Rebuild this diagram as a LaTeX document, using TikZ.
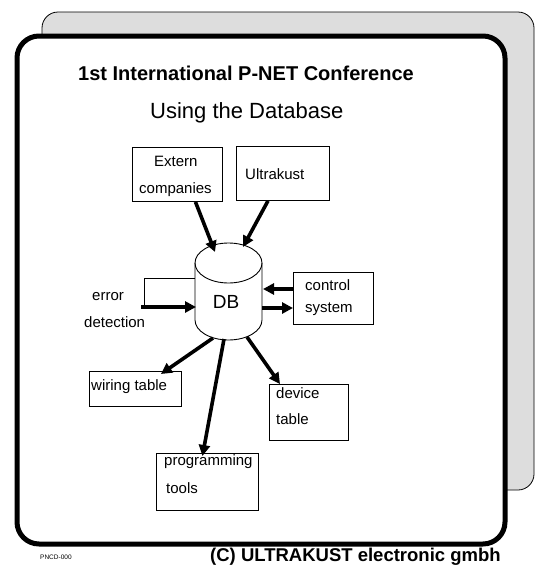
\documentclass[tikz,border=0pt]{standalone}
\usepackage{fontspec}
\setmainfont{Liberation Sans}
\usetikzlibrary{arrows.meta}
\definecolor{panelgray}{RGB}{221,221,221}
\begin{document}
\begin{tikzpicture}[x=1pt,y=-1pt,
  box/.style={draw,line width=0.9pt,rectangle,inner sep=0pt,anchor=north west},
  txt/.style={font=\fontsize{15}{17}\selectfont,inner sep=0pt,anchor=west},
  big/.style={line width=3.6pt,-{Triangle[length=11pt,width=11pt]}},
  thin/.style={line width=0.9pt}]
\useasboundingbox (0,0) rectangle (536,568);
% panels
\draw[fill=panelgray,line width=0.8pt,rounded corners=16pt] (42,12) rectangle (534,490);
\draw[fill=white,line width=5pt,rounded corners=22pt] (17,36) rectangle (505,544);
% titles
\node[inner sep=0pt,anchor=west,font=\bfseries\fontsize{20}{22}\selectfont] (title) at (78,73) {1st International P-NET Conference};
\node[inner sep=0pt,anchor=west,font=\fontsize{22}{24}\selectfont] (sub) at (150,113) {Using the Database};
% boxes
\node[box,minimum width=90pt,minimum height=54pt] (ext) at (132,147) {};
\node[txt] (extA) at (154,161) {Extern};
\node[txt] (extB) at (139,190) {companies};
\node[box,minimum width=93pt,minimum height=54pt] (ult) at (236,146) {};
\node[txt] (ultA) at (245,174) {Ultrakust};
\node[box,minimum width=80pt,minimum height=52pt] (ctrl) at (293,272) {};
\node[txt] (ctrlA) at (305,285) {control};
\node[txt] (ctrlB) at (305,309) {system};
\node[box,minimum width=92pt,minimum height=35pt] (wir) at (89,371) {};
\node[txt] (wirA) at (91,387) {wiring table};
\node[box,minimum width=79pt,minimum height=56pt] (dev) at (269,384) {};
\node[txt] (devA) at (276,393) {device};
\node[txt] (devB) at (276,419) {table};
\node[box,minimum width=102pt,minimum height=57pt] (prog) at (156,453) {};
\node[txt] (progA) at (164,462) {programming};
\node[txt] (progB) at (166,488) {tools};
% error detection text
\node[txt] (errA) at (92,297) {error};
\node[txt] (errB) at (84,322) {detection};
% cylinder
\draw[thin,fill=white] (195,263) -- (195,320) arc[start angle=180,end angle=0,x radius=33.5,y radius=20] -- (262,263);
\draw[thin] (228.5,263) ellipse[x radius=33.5,y radius=20];
\node[inner sep=0pt,font=\fontsize{19}{21}\selectfont] (db) at (226,302) {DB};
\coordinate (dbExt) at (215,252);
\coordinate (dbUlt) at (243,247);
\coordinate (dbL1) at (195,278);
\coordinate (dbL2) at (196,307);
\coordinate (dbR1) at (263,289);
\coordinate (dbR2) at (262,308);
\coordinate (dbB1) at (213,338);
\coordinate (dbB2) at (224,339);
\coordinate (dbB3) at (247,337);
\coordinate (loopA) at (144,278);
\coordinate (loopB) at (144,307);
\coordinate (loopC) at (141,307);
% connectors
\draw[big] ([xshift=18pt]ext.south) -- (dbExt);
\draw[big] ([xshift=-15pt]ult.south) -- (dbUlt);
\draw[thin] (dbL1) -- (loopA) -- (loopB);
\draw[big] (loopC) -- (dbL2);
\draw[big] (ctrl.west |- dbR1) -- (dbR1);
\draw[big] (dbR2) -- (ctrl.west |- dbR2);
\draw[big] (dbB1) -- ([xshift=-21pt,yshift=-3pt]wir.north east);
\draw[big] (dbB2) -- ([xshift=-5pt,yshift=-3pt]prog.north);
\draw[big] (dbB3) -- ([xshift=11pt]dev.north west);
% footer
\node[inner sep=0pt,anchor=west,font=\fontsize{6.5}{7}\selectfont] (pncd) at (40,557) {PNCD-000};
\node[inner sep=0pt,anchor=west,font=\bfseries\fontsize{18.5}{20}\selectfont] (copy) at (210,557) {(C) ULTRAKUST electronic gmbh};
\end{tikzpicture}
\end{document}
